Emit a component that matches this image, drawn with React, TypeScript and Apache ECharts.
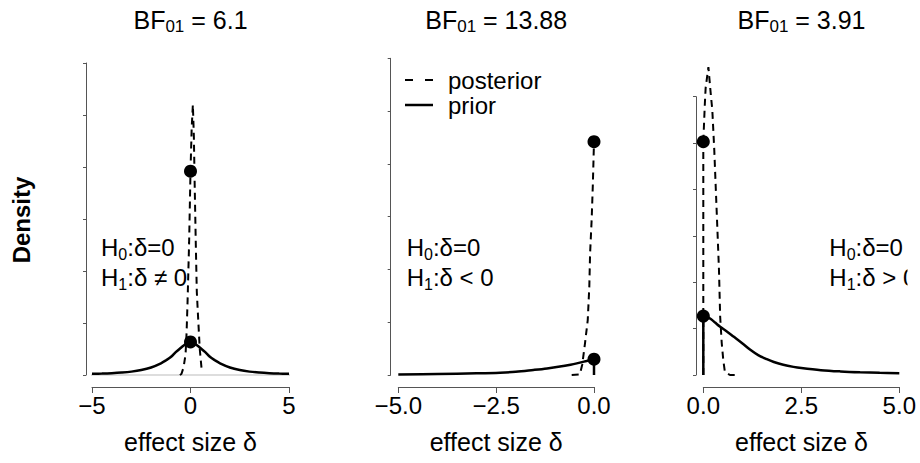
import React, { useEffect, useRef } from "react";
import * as echarts from "echarts";

// ---- data (x in effect size δ, y in density tick units) ----
const PRIOR1_X = [-5, -4.5, -4, -3.5, -3, -2.5, -2, -1.5, -1.25, -1, -0.75, -0.5, -0.25, 0, 0.25, 0.5, 0.75, 1, 1.25, 1.5, 2, 2.5, 3, 3.5, 4, 4.5, 5];
const PRIOR1_Y = [0.022, 0.027, 0.035, 0.047, 0.065, 0.095, 0.145, 0.225, 0.28, 0.345, 0.44, 0.52, 0.595, 0.635, 0.595, 0.52, 0.44, 0.345, 0.28, 0.225, 0.145, 0.095, 0.065, 0.047, 0.035, 0.027, 0.022];
const POST1_X = [-0.54, -0.46, -0.35, -0.25, -0.2, -0.15, -0.07, 0, 0.06, 0.12, 0.17, 0.22, 0.27, 0.32, 0.38, 0.47, 0.56];
const POST1_Y = [0, 0.02, 0.15, 0.4, 0.8, 1.4, 2.55, 3.92, 4.75, 5.2, 4.6, 3.5, 2.5, 1.6, 1.15, 0.5, 0.13];

const PRIOR2_X = [-5, -4, -3, -2.4, -2, -1.55, -1.2, -0.87, -0.6, -0.44, -0.19, 0];
const PRIOR2_Y = [0.008, 0.018, 0.032, 0.044, 0.06, 0.095, 0.125, 0.16, 0.195, 0.22, 0.265, 0.3];
const POST2_X = [-0.57, -0.36, -0.3, -0.23, -0.16, -0.12, -0.1, -0.06, -0.03, 0];
const POST2_Y = [0, 0.01, 0.2, 0.6, 1.04, 1.67, 2.3, 2.94, 3.6, 4.42];

const PRIOR3_X = [0, 0.1, 0.2, 0.3, 0.43, 0.6, 0.77, 1.0, 1.19, 1.4, 1.62, 1.8, 2.04, 2.3, 2.5, 3, 3.5, 4, 4.5, 5];
const PRIOR3_Y = [1.27, 1.25, 1.2, 1.13, 1.04, 0.94, 0.83, 0.68, 0.55, 0.43, 0.34, 0.28, 0.22, 0.175, 0.15, 0.105, 0.078, 0.06, 0.048, 0.04];
const POST3_X = [0, 0.04, 0.06, 0.13, 0.19, 0.23, 0.28, 0.32, 0.36, 0.4, 0.43, 0.47, 0.51, 0.55, 0.68, 0.89];
const POST3_Y = [5.03, 5.86, 6.19, 6.64, 6.06, 5.71, 4.85, 3.99, 3.13, 2.26, 1.26, 0.69, 0.32, 0.07, 0, 0];

// density at δ = 0: [posterior, prior]
const DOTS1 = [3.92, 0.635];
const DOTS2 = [4.42, 0.3];
const DOTS3 = [5.03, 1.27];

const BF = ["6.1", "13.88", "3.91"];
const H1_SIGNS = ["≠", "<", ">"];
const X_RANGES = [[-5, 5], [-5, 0], [0, 5]];
const X_INTERVALS = [5, 2.5, 2.5];
const X_DECIMALS = [0, 1, 1];
const BASELINE1_X = [-5.3, 5.36];

const FONT = "'Liberation Sans', Arial, Helvetica, sans-serif";
const AXIS_COLOR = "#555";

const zip = (xs: number[], ys: number[]) => xs.map((x, i) => [x, ys[i]]);

export default function App() {
  const ref = useRef<HTMLDivElement>(null);
  useEffect(() => {
    if (!ref.current) return;
    const chart = echarts.init(ref.current, null, { renderer: "svg" });

    const grids = [
      { left: 92, top: 63, width: 197, height: 312 },
      { left: 398.3, top: 58.3, width: 195.7, height: 316.7 },
      { left: 703.3, top: 96.7, width: 196, height: 278.3 },
    ];
    const yOffsets = [6, 7.6, 7.3];
    const centers = [190.5, 496.2, 801.5];
    const hX = [101, 406.7, 829.3];

    const fmt = (d: number) => (v: number) => {
      const s = Math.abs(v).toFixed(d);
      return v < 0 ? "\u2212" + s : s;
    };

    const xAxis = X_RANGES.map((r, i) => ({
      type: "value",
      gridIndex: i,
      min: r[0],
      max: r[1],
      interval: X_INTERVALS[i],
      offset: 12,
      axisLine: { show: true, onZero: false, lineStyle: { color: AXIS_COLOR, width: 1 } },
      axisTick: { show: true, length: 6, lineStyle: { color: AXIS_COLOR, width: 1 } },
      axisLabel: { fontSize: 24, fontFamily: FONT, color: "#000", margin: 6, formatter: fmt(X_DECIMALS[i]) },
      splitLine: { show: false },
    }));
    const yAxis = [0, 1, 2].map((i) => ({
      type: "value",
      gridIndex: i,
      min: 0,
      max: 6,
      interval: 1,
      offset: yOffsets[i],
      axisLine: { show: true, onZero: false, lineStyle: { color: AXIS_COLOR, width: 1 } },
      axisTick: { show: true, length: 3, lineStyle: { color: AXIS_COLOR, width: 1 } },
      axisLabel: { show: false },
      splitLine: { show: false },
    }));

    const priors = [zip(PRIOR1_X, PRIOR1_Y), zip(PRIOR2_X, PRIOR2_Y), zip(PRIOR3_X, PRIOR3_Y)];
    const posts = [zip(POST1_X, POST1_Y), zip(POST2_X, POST2_Y), zip(POST3_X, POST3_Y)];
    const dots = [DOTS1, DOTS2, DOTS3];

    const solid = { color: "#000", width: 2.5 };
    const dashed = { color: "#000", width: 2, type: [7, 5] };

    const series: any[] = [
      {
        type: "line",
        name: "baseline",
        xAxisIndex: 0,
        yAxisIndex: 0,
        data: BASELINE1_X.map((x) => [x, 0]),
        symbol: "none",
        clip: false,
        lineStyle: { color: "#bbb", width: 1 },
        z: 1,
      },
    ];
    [0, 1, 2].forEach((i) => {
      series.push({
        type: "line",
        name: "prior",
        xAxisIndex: i,
        yAxisIndex: i,
        data: priors[i],
        symbol: "none",
        smooth: 0.35,
        clip: false,
        lineStyle: solid,
        z: 3,
      });
      series.push({
        type: "line",
        name: "posterior",
        xAxisIndex: i,
        yAxisIndex: i,
        data: posts[i],
        symbol: "none",
        clip: false,
        lineStyle: dashed,
        z: 3,
      });
      series.push({
        type: "scatter",
        name: "dots",
        xAxisIndex: i,
        yAxisIndex: i,
        data: dots[i].map((v) => [0, v]),
        symbol: "circle",
        symbolSize: 13,
        clip: false,
        itemStyle: { color: "#000", opacity: 1 },
        z: 5,
      });
    });
    // one-sided priors drop to zero at δ = 0
    [1, 2].forEach((i) => {
      series.push({
        type: "line",
        name: "prior",
        xAxisIndex: i,
        yAxisIndex: i,
        data: [[0, 0], [0, dots[i][1]]],
        symbol: "none",
        clip: false,
        lineStyle: solid,
        z: 4,
      });
    });
    // truncated posterior of panel 3 rises from zero at δ = 0
    series.push({
      type: "line",
      name: "posterior",
      xAxisIndex: 2,
      yAxisIndex: 2,
      data: [[0, 0], [0, DOTS3[0]]],
      symbol: "none",
      clip: false,
      lineStyle: dashed,
      z: 3,
    });

    const rich = {
      n: { fontSize: 24, fontFamily: FONT, color: "#000", lineHeight: 30 },
      s: { fontSize: 16, fontFamily: FONT, color: "#000", lineHeight: 16, verticalAlign: "bottom" },
    };
    const richT = {
      n: { fontSize: 25, fontFamily: FONT, color: "#000", lineHeight: 30 },
      s: { fontSize: 17, fontFamily: FONT, color: "#000", lineHeight: 17, verticalAlign: "bottom" },
    };

    const graphic: any[] = [];
    [0, 1, 2].forEach((i) => {
      graphic.push({
        type: "text",
        x: centers[i],
        y: 20,
        style: { text: `{n|BF}{s|01}{n| = ${BF[i]}}`, rich: richT, align: "center", verticalAlign: "middle" },
      });
      graphic.push({
        type: "text",
        x: centers[i],
        y: 442,
        style: { text: "effect size δ", fontSize: 25, fontFamily: FONT, fill: "#000", align: "center", verticalAlign: "middle" },
      });
      graphic.push({
        type: "text",
        x: hX[i],
        y: 247,
        style: { text: "{n|H}{s|0}{n|:δ=0}", rich, align: "left", verticalAlign: "middle" },
      });
      graphic.push({
        type: "text",
        x: hX[i],
        y: 277,
        style: { text: `{n|H}{s|1}{n|:δ ${H1_SIGNS[i]} 0}`, rich, align: "left", verticalAlign: "middle" },
      });
    });
    graphic.push({
      type: "text",
      x: 21,
      y: 220,
      rotation: Math.PI / 2,
      style: { text: "Density", fontSize: 24, fontWeight: "bold", fontFamily: FONT, fill: "#000", align: "center", verticalAlign: "middle" },
    });
    // legend (panel 2)
    graphic.push({ type: "line", shape: { x1: 405, y1: 80, x2: 433, y2: 80 }, style: { stroke: "#000", lineWidth: 2, lineDash: [8, 12] } });
    graphic.push({ type: "line", shape: { x1: 405, y1: 105, x2: 433, y2: 105 }, style: { stroke: "#000", lineWidth: 2.5 } });
    graphic.push({ type: "text", x: 448, y: 80, style: { text: "posterior", fontSize: 24, fontFamily: FONT, fill: "#000", align: "left", verticalAlign: "middle" } });
    graphic.push({ type: "text", x: 448, y: 105, style: { text: "prior", fontSize: 24, fontFamily: FONT, fill: "#000", align: "left", verticalAlign: "middle" } });
    // clip of hypothesis text at the plot region edge of panel 3
    graphic.push({ type: "rect", z: 100, shape: { x: 907.5, y: 262, width: 13, height: 30 }, style: { fill: "#fff" } });

    chart.setOption({
      animation: false,
      backgroundColor: "#fff",
      grid: grids,
      xAxis,
      yAxis,
      series,
      graphic,
    });
    return () => chart.dispose();
  }, []);

  return <div ref={ref} style={{ position: "absolute", left: 0, top: 0, width: 920, height: 463 }} />;
}
